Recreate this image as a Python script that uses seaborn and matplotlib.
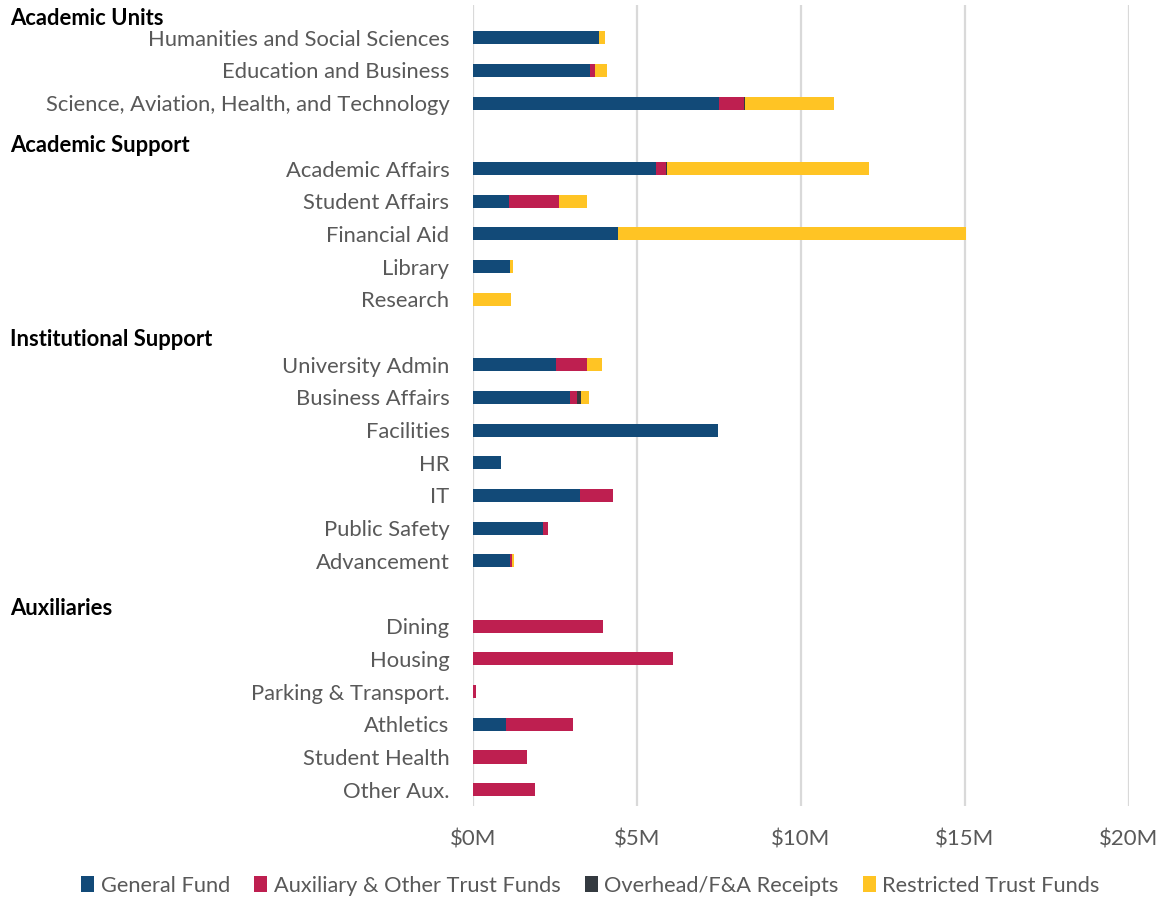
import matplotlib
matplotlib.use("Agg")
import matplotlib.pyplot as plt
from matplotlib.patches import Patch
import matplotlib.transforms as mtransforms
import seaborn as sns
import pandas as pd

# Rows of the chart; blank entries leave room for the group headings
categories = [
    "Humanities and Social Sciences", "Education and Business",
    "Science, Aviation, Health, and Technology", " ",
    "Academic Affairs", "Student Affairs", "Financial Aid", "Library", "Research", "  ",
    "University Admin", "Business Affairs", "Facilities", "HR", "IT",
    "Public Safety", "Advancement", "   ",
    "Dining", "Housing", "Parking & Transport.", "Athletics", "Student Health", "Other Aux.",
]

# Expenditure by fund source, $ millions
general_fund = [3.85, 3.58, 7.51, 0,
                5.57, 1.09, 4.43, 1.14, 0.0, 0,
                2.54, 2.96, 7.48, 0.84, 3.26, 2.13, 1.13, 0,
                0.0, 0.0, 0.0, 0.99, 0.0, 0.0]
auxiliary_trust = [0.0, 0.15, 0.74, 0,
                   0.32, 1.52, 0.0, 0.0, 0.0, 0,
                   0.94, 0.22, 0.0, 0.0, 1.00, 0.16, 0.07, 0,
                   3.96, 6.11, 0.10, 2.05, 1.63, 1.89]
overhead_fa = [0.0, 0.0, 0.05, 0,
               0.03, 0.0, 0.0, 0.0, 0.0, 0,
               0.0, 0.10, 0.0, 0.0, 0.0, 0.0, 0.0, 0,
               0.0, 0.0, 0.0, 0.0, 0.0, 0.0]
restricted_trust = [0.18, 0.36, 2.69, 0,
                    6.16, 0.86, 10.60, 0.08, 1.15, 0,
                    0.46, 0.27, 0.0, 0.0, 0.0, 0.0, 0.06, 0,
                    0.0, 0.0, 0.0, 0.0, 0.0, 0.0]

series_names = ["General Fund", "Auxiliary & Other Trust Funds",
                "Overhead/F&A Receipts", "Restricted Trust Funds"]
series_colors = ["#124A78", "#BE1F50", "#343A40", "#FFC424"]

groups = ["Academic Units", "Academic Support", "Institutional Support", "Auxiliaries"]
group_rows = [-0.58, 3.30, 9.23, 17.46]

tick_values = [0, 5, 10, 15, 20]
tick_labels = ["$0M", "$5M", "$10M", "$15M", "$20M"]

df = pd.DataFrame({
    "category": categories,
    series_names[0]: general_fund,
    series_names[1]: auxiliary_trust,
    series_names[2]: overhead_fa,
    series_names[3]: restricted_trust,
})
cum = df[series_names].cumsum(axis=1)

sns.set_style("white")
plt.rcParams["font.family"] = ["Lato", "DejaVu Sans"]

fig = plt.figure(figsize=(11.6, 8.99), dpi=100)
ax = fig.add_axes([0.4078, 0.1034, 0.5655, 0.891])

# Stacked bars: draw cumulative totals from the outermost layer inward
for name, color in reversed(list(zip(series_names, series_colors))):
    sns.barplot(x=cum[name], y=df["category"], order=categories, orient="h",
                color=color, width=0.4, linewidth=0, saturation=1, ax=ax)

ax.set_xlim(0, 20)
ax.set_ylim(23.5, -1.0)
ax.set_xticks(tick_values)
ax.set_xticklabels(tick_labels)
ax.set_xlabel("")
ax.set_ylabel("")
ax.grid(axis="x", color="#D9D9D9", linewidth=1.6)
ax.set_axisbelow(True)
for s in ax.spines.values():
    s.set_visible(False)
ax.tick_params(axis="both", length=0, labelsize=16, colors="#595959")
ax.tick_params(axis="y", labelsize=15.8)
ax.tick_params(axis="x", pad=17)
ax.tick_params(axis="y", pad=17)

trans = mtransforms.blended_transform_factory(fig.transFigure, ax.transData)
for g, r in zip(groups, group_rows):
    ax.text(10 / 1160, r, g, transform=trans,
            fontsize=15.8, fontweight="bold", color="black", va="center", ha="left")

handles = [Patch(facecolor=c, edgecolor="none", label=n) for n, c in zip(series_names, series_colors)]
fig.legend(handles=handles, loc="center", bbox_to_anchor=(0.509, 0.015), ncol=4, frameon=False,
           fontsize=15.7, handlelength=0.6, handleheight=0.7, handletextpad=0.3, columnspacing=1.1,
           labelcolor="#595959")

fig.savefig("out.png", dpi=100)
